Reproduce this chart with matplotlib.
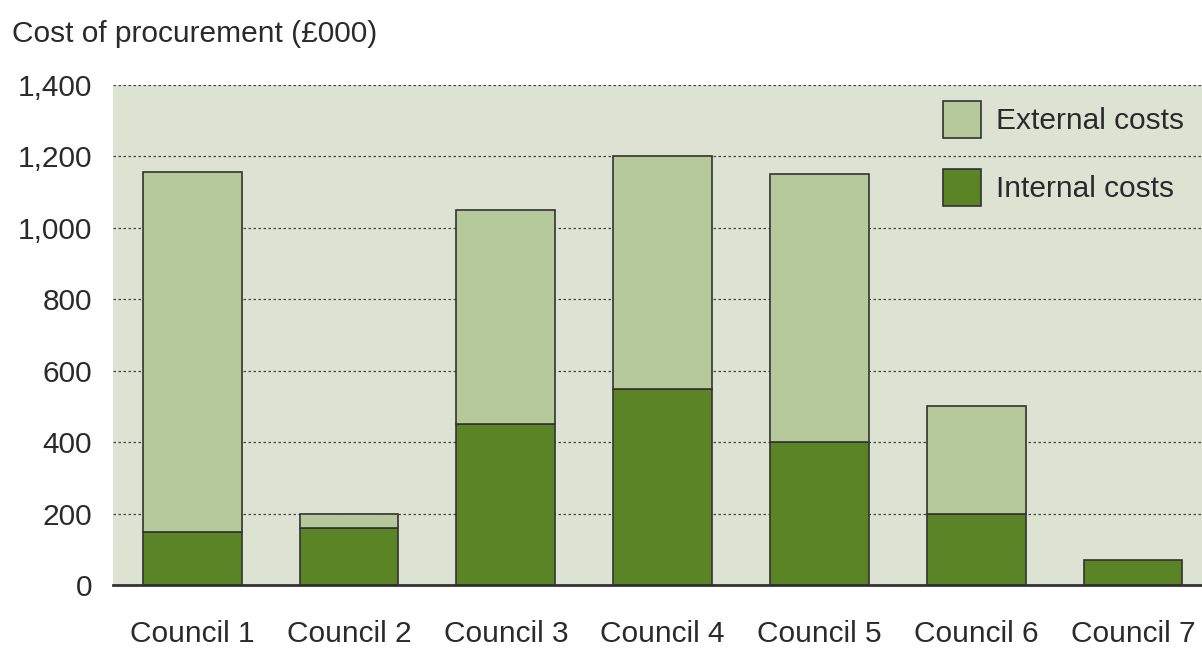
import matplotlib.pyplot as plt
import numpy as np

plt.rcParams['font.family'] = ['Liberation Sans', 'DejaVu Sans']

councils = ["Council 1", "Council 2", "Council 3", "Council 4",
            "Council 5", "Council 6", "Council 7"]
internal = [150, 160, 450, 550, 400, 200, 70]
external = [1005, 40, 600, 650, 750, 300, 0]

c_int = "#5b8427"
c_ext = "#b5c99a"
bg = "#dde3d3"
txt = "#2a2a2a"
fs = 21.5

fig = plt.figure(figsize=(12.02, 6.48), dpi=100)
ax = fig.add_axes([0.094, 0.097, 0.906, 0.772])
ax.set_facecolor(bg)

x = np.arange(len(councils))
ax.bar(x, internal, width=0.63, color=c_int, edgecolor="#333333",
       linewidth=1.2, zorder=3, label="Internal costs")
ext_vals = [e if e > 0 else np.nan for e in external]
ax.bar(x, ext_vals, width=0.63, bottom=internal, color=c_ext,
       edgecolor="#333333", linewidth=1.2, zorder=3, label="External costs")

ax.set_xlim(-0.506, 6.44)
ax.set_ylim(0, 1400)
ax.set_yticks(range(0, 1401, 200))
ax.set_yticklabels([f"{v:,}" for v in range(0, 1401, 200)])
ax.set_xticks(x)
ax.set_xticklabels(councils)
ax.tick_params(axis='y', length=0, pad=15, labelsize=fs, labelcolor=txt)
ax.tick_params(axis='x', length=0, pad=25, labelsize=fs, labelcolor=txt)
ax.yaxis.grid(True, linestyle=(0, (2, 2)), color="#444444", linewidth=0.9, zorder=1)
ax.set_axisbelow(True)
for s in ["top", "right", "left"]:
    ax.spines[s].set_visible(False)
ax.spines["bottom"].set_color("#333333")
ax.spines["bottom"].set_linewidth(2)
ax.spines["bottom"].set_zorder(4)

h, l = ax.get_legend_handles_labels()
leg = ax.legend(h[::-1], l[::-1], loc="upper right", frameon=False,
                handlelength=1.27, handleheight=1.5, labelspacing=1.05,
                handletextpad=0.53, fontsize=fs, borderaxespad=0.0,
                borderpad=0.3, bbox_to_anchor=(0.992, 0.985))
for t in leg.get_texts():
    t.set_color(txt)

fig.text(0.01, 0.948, "Cost of procurement (£000)", fontsize=fs,
         color=txt, va="center", ha="left")

plt.savefig("out.png", dpi=100)
